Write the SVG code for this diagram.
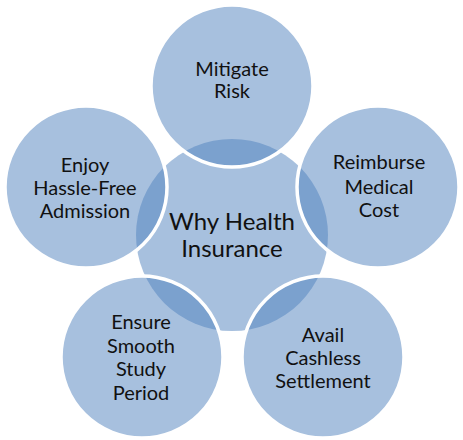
<svg xmlns="http://www.w3.org/2000/svg" width="463" height="440" viewBox="0 0 463 440">
<style>
.c{fill:#4F81BD;fill-opacity:0.5}
.o{fill:#4F81BD;fill-opacity:0.5;stroke:#FFFFFF;stroke-width:3.5}
.t{font-family:"Lato","Liberation Sans",sans-serif;font-size:20px;fill:#111111;text-anchor:middle}
.tc{font-family:"Lato","Liberation Sans",sans-serif;font-size:24px;fill:#111111;text-anchor:middle}
</style>
<rect width="463" height="440" fill="#FFFFFF"/>
<g id="center">
<circle class="c" cx="232" cy="235" r="96"/>
<text class="tc" x="232" y="230">Why Health</text>
<text class="tc" x="232" y="257">Insurance</text>
</g>
<g id="mitigate">
<circle class="o" cx="232" cy="86" r="81"/>
<text class="t" x="232" y="76">Mitigate</text>
<text class="t" x="232" y="98">Risk</text>
</g>
<g id="reimburse">
<circle class="o" cx="378" cy="187" r="81"/>
<text class="t" x="379" y="169">Reimburse</text>
<text class="t" x="379" y="194">Medical</text>
<text class="t" x="379" y="217">Cost</text>
</g>
<g id="avail">
<circle class="o" cx="323" cy="357" r="81"/>
<text class="t" x="323" y="342">Avail</text>
<text class="t" x="323" y="365">Cashless</text>
<text class="t" x="323" y="388">Settlement</text>
</g>
<g id="ensure">
<circle class="o" cx="142" cy="357" r="81"/>
<text class="t" x="141" y="329">Ensure</text>
<text class="t" x="141" y="353">Smooth</text>
<text class="t" x="141" y="376">Study</text>
<text class="t" x="141" y="400">Period</text>
</g>
<g id="enjoy">
<circle class="o" cx="86" cy="187" r="81"/>
<text class="t" x="85" y="172">Enjoy</text>
<text class="t" x="85" y="195">Hassle-Free</text>
<text class="t" x="85" y="218">Admission</text>
</g>
<g id="connectors"></g>
</svg>
